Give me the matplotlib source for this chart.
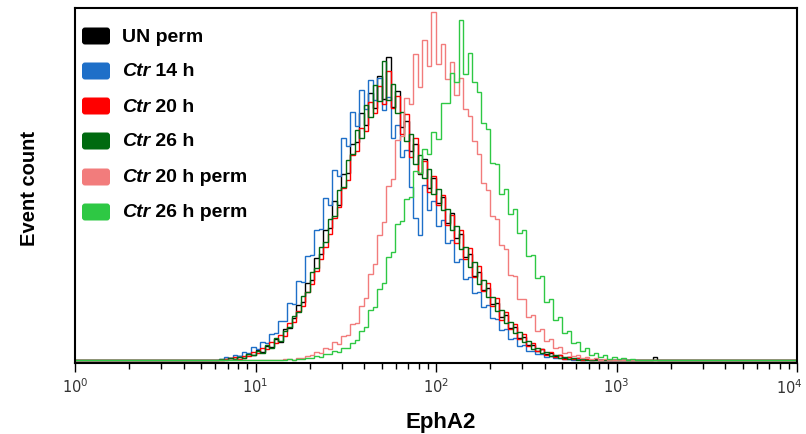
import numpy as np
import matplotlib.pyplot as plt
from matplotlib.patches import FancyBboxPatch
from matplotlib.transforms import IdentityTransform
from matplotlib import ticker

# ------------------- Data -------------------
# histogram channels: 40 bins per decade from 10^0.8 to 10^3.3
log_start, log_step, n_bins = 0.8, 0.025, 100

series_names = ["UN perm", "Ctr 14 h", "Ctr 20 h", "Ctr 26 h", "Ctr 20 h perm", "Ctr 26 h perm"]
series_colors = ["#000000", "#1e6fc8", "#ff0000", "#006a10", "#f27c7c", "#2ec844"]

un_perm = [0, 0.3, 0.6, 0.2, 1.1, 0.7, 1.8, 1.4, 2.9, 2.2,
           4.1, 3.6, 6.0, 5.2, 8.7, 9.1, 11.8, 15.6, 16.4, 21.9,
           22.8, 29.0, 30.1, 36.8, 37.5, 45.2, 44.0, 52.7, 53.1, 61.5,
           62.0, 70.2, 66.8, 75.9, 71.7, 80.8, 74.2, 86.0, 72.0, 76.3,
           66.1, 68.0, 59.4, 61.3, 52.8, 57.0, 48.9, 51.6, 44.7, 46.2,
           39.0, 41.8, 34.6, 35.9, 29.3, 30.2, 24.0, 25.1, 19.8, 20.5,
           15.9, 16.3, 12.1, 12.8, 9.0, 9.4, 6.3, 6.6, 4.2, 4.4,
           2.6, 3.0, 1.6, 2.1, 1.0, 1.3, 0.5, 0.8, 0.2, 0.5,
           0.1, 0.3, 0, 0.2, 0, 0, 0, 0, 0, 0,
           0, 0, 0, 0, 0, 0, 0.8, 0, 0, 0]

ctr_14 = [0.4, 0.9, 0.5, 1.3, 1.2, 2.4, 1.9, 3.6, 3.2, 5.1,
          4.9, 7.4, 7.6, 11.0, 11.2, 16.3, 15.8, 22.4, 22.1, 29.6,
          29.8, 36.9, 37.2, 46.0, 44.1, 54.0, 52.3, 63.1, 60.7, 70.4,
          66.5, 76.8, 71.2, 79.6, 73.8, 80.1, 70.9, 74.6, 63.0, 66.8,
          57.8, 59.6, 49.2, 40.3, 35.5, 49.8, 42.6, 45.1, 38.0, 39.7,
          33.1, 34.0, 27.9, 28.8, 23.0, 23.6, 18.9, 19.4, 15.2, 15.7,
          11.9, 11.7, 8.6, 8.9, 6.1, 6.2, 4.1, 4.2, 2.7, 2.6,
          1.6, 1.7, 0.9, 1.1, 0.5, 0.6, 0.2, 0.4, 0.1, 0.2,
          0, 0.1, 0, 0, 0, 0, 0, 0, 0, 0,
          0, 0, 0, 0, 0, 0, 0, 0, 0, 0]

ctr_20 = [0.1, 0.2, 0.5, 0.8, 0.4, 1.2, 1.1, 2.3, 1.9, 3.4,
          3.1, 5.0, 4.8, 7.1, 6.9, 10.4, 10.9, 14.0, 15.3, 19.2,
          21.6, 25.3, 28.7, 32.0, 35.8, 40.4, 43.6, 48.8, 51.0, 58.2,
          59.3, 66.0, 65.1, 73.4, 70.2, 77.9, 72.8, 82.0, 71.5, 74.9,
          64.2, 69.8, 57.6, 63.0, 53.2, 56.5, 47.7, 52.3, 43.9, 46.8,
          38.4, 41.2, 33.3, 37.0, 28.6, 31.9, 23.7, 26.8, 19.5, 21.9,
          15.4, 17.6, 11.5, 13.7, 8.8, 10.2, 6.0, 7.4, 3.9, 4.8,
          2.5, 3.2, 1.5, 2.2, 0.9, 1.4, 0.4, 0.9, 0.2, 0.5,
          0.1, 0.2, 0, 0.1, 0, 0, 0, 0, 0, 0,
          0, 0, 0, 0, 0, 0, 0, 0, 0, 0]

ctr_26 = [0.2, 0.1, 0.7, 0.4, 0.9, 0.6, 1.7, 1.3, 2.6, 2.1,
          4.3, 3.5, 6.2, 5.4, 8.2, 9.5, 12.6, 13.7, 18.3, 19.4,
          25.1, 26.0, 32.2, 33.4, 40.1, 41.0, 48.3, 49.2, 56.7, 58.5,
          65.3, 63.2, 72.4, 69.1, 78.0, 73.6, 85.0, 73.9, 78.4, 70.3,
          70.5, 62.1, 64.2, 55.8, 58.3, 51.6, 54.2, 47.1, 48.6, 42.7,
          42.9, 36.8, 38.1, 31.5, 32.2, 26.3, 27.9, 21.7, 22.6, 17.8,
          18.0, 13.9, 14.2, 10.6, 10.8, 7.6, 7.9, 5.1, 5.3, 3.2,
          3.4, 2.0, 2.2, 1.1, 1.4, 0.6, 0.8, 0.3, 0.5, 0.1,
          0.2, 0, 0.1, 0, 0, 0, 0, 0, 0, 0,
          0, 0, 0, 0, 0, 0, 0, 0, 0, 0]

ctr_20_perm = [0, 0, 0, 0, 0, 0, 0, 0, 0, 0,
               0, 0, 0, 0, 0.2, 0.4, 0.1, 0.6, 0.5, 1.1,
               1.3, 2.2, 1.9, 3.3, 3.0, 5.0, 4.6, 6.9, 7.1, 10.2,
               10.4, 15.3, 17.6, 24.5, 27.4, 35.6, 39.2, 49.5, 51.3, 62.4,
               63.7, 74.5, 72.8, 86.9, 77.6, 90.8, 83.4, 99.0, 84.2, 89.7,
               79.8, 84.6, 75.3, 80.1, 71.2, 69.4, 62.1, 58.6, 50.3, 48.4,
               41.0, 40.2, 32.7, 31.6, 24.1, 23.9, 17.2, 17.4, 12.3, 12.9,
               8.1, 8.9, 5.3, 5.9, 3.4, 3.7, 1.9, 2.3, 1.0, 1.3,
               0.5, 0.8, 0.2, 0.5, 0.1, 0.3, 0, 0.1, 0, 0,
               0, 0, 0, 0, 0, 0, 0, 0, 0, 0]

ctr_26_perm = [0, 0, 0, 0, 0, 0, 0, 0, 0, 0,
               0, 0, 0, 0, 0, 0.2, 0.1, 0.4, 0.3, 0.6,
               0.7, 1.2, 0.9, 1.8, 1.6, 2.5, 2.2, 3.5, 3.4, 4.8,
               5.6, 8.2, 9.3, 14.1, 15.2, 20.3, 21.9, 29.4, 30.6, 38.5,
               39.4, 45.6, 46.3, 53.8, 53.0, 59.9, 58.4, 64.8, 62.9, 73.0,
               73.1, 81.6, 79.0, 96.5, 81.2, 87.3, 79.1, 76.2, 67.4, 65.5,
               55.9, 55.6, 47.2, 48.5, 41.6, 42.8, 36.1, 36.9, 29.5, 29.8,
               23.3, 23.9, 16.4, 17.2, 11.3, 12.1, 7.6, 8.3, 4.9, 5.2,
               2.6, 3.5, 1.4, 2.1, 0.8, 1.3, 0.4, 0.8, 0.2, 0.5,
               0.1, 0.3, 0, 0.1, 0, 0, 0, 0, 0, 0]

all_series = [un_perm, ctr_14, ctr_20, ctr_26, ctr_20_perm, ctr_26_perm]

# ------------------- Plotting -------------------
W, H = 806, 435
fig = plt.figure(figsize=(W / 100, H / 100), dpi=100)
ax = fig.add_axes([75 / W, (H - 364) / H, (797 - 75) / W, (364 - 9) / H])

edges = 10 ** (log_start + log_step * np.arange(n_bins + 1))
# pad with the empty channels out to 10^0 and 10^4 so the baseline runs the full width
edges_full = np.concatenate([[1.0], edges, [1e4]])

for vals, col in zip(all_series, series_colors):
    v = np.concatenate([[0.0], np.asarray(vals, float), [0.0]])
    ax.stairs(v, edges_full, baseline=None, color=col, lw=1.0)

ax.set_xscale("log")
ax.set_xlim(1, 1e4)
ax.set_ylim(-0.85, 100)
ax.set_yticks([])

for sp in ax.spines.values():
    sp.set_linewidth(1.5)
ax.tick_params(axis="x", which="major", length=6.5, width=1.0, direction="out",
               labelsize=10.5, labelcolor="#333333", pad=3)
ax.tick_params(axis="x", which="minor", length=4.3, width=1.0, direction="out")

# last label (10^4) is drawn by hand, right-aligned, so it stays inside the picture
sci = ticker.LogFormatterSciNotation()
ax.xaxis.set_major_formatter(ticker.FuncFormatter(lambda v, p: "" if v >= 1e4 else sci(v, p)))
ax.annotate(r"$\mathdefault{10^{4}}$", xy=(1e4, 0), xycoords=("data", "axes fraction"),
            xytext=(4, -10.5), textcoords="offset points", ha="right", va="top",
            fontsize=10.5, color="#333333", annotation_clip=False)

fig.text(441 / W, 1 - 423 / H, "EphA2", fontsize=16, fontweight="bold",
         family="Liberation Sans", ha="center", va="center")
fig.text(30 / W, 1 - 188 / H, "Event count", fontsize=14.5, fontweight="bold",
         family="Liberation Sans", rotation=90, ha="center", va="center")

# legend drawn by hand: rounded swatches and partly italic labels
legend_y = [37, 72, 107, 142, 178, 213]
for name, col, yc in zip(series_names, series_colors, legend_y):
    sw = FancyBboxPatch((82, H - yc - 8.5), 28, 17,
                        boxstyle="round,pad=0,rounding_size=3",
                        transform=IdentityTransform(), facecolor=col, edgecolor="none")
    fig.add_artist(sw)
    if name.startswith("Ctr"):
        t1 = fig.text(122 / W, 1 - yc / H, "Ctr", fontsize=14, fontweight="bold",
                      style="italic", family="Liberation Sans", va="center")
        ax.annotate(name[3:], xy=(1, 0), xycoords=t1, va="bottom", ha="left",
                    fontsize=14, fontweight="bold", family="Liberation Sans",
                    annotation_clip=False)
    else:
        fig.text(122 / W, 1 - yc / H, name, fontsize=14, fontweight="bold",
                 family="Liberation Sans", va="center")

fig.savefig("out.png", dpi=100)
